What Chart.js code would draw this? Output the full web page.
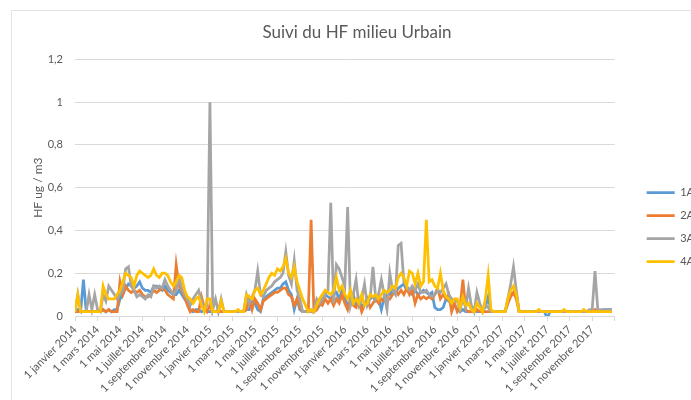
<!DOCTYPE html>
<html>
<head>
<meta charset="utf-8">
<title>Suivi du HF milieu Urbain</title>
<script src="https://cdn.jsdelivr.net/npm/chart.js@4.4.1/dist/chart.umd.min.js"></script>
<style>
  html, body { margin: 0; padding: 0; background: #fff; overflow: hidden; width: 691px; height: 400px; }
  #frame { position: absolute; left: 11px; top: 10px; width: 720px; height: 440px; border: 1px solid #e3e3e3; }
  #wrap { position: absolute; left: 10px; top: 10px; width: 694px; height: 400px; }
</style>
</head>
<body>
<div id="frame"></div>
<div id="wrap"><canvas id="chart"></canvas></div>
<script>
/* Suivi du HF milieu Urbain — relevés hebdomadaires 2014-2017 */

const MONTH_LABELS = [
  "1 janvier 2014", "1 mars 2014", "1 mai 2014", "1 juillet 2014", "1 septembre 2014", "1 novembre 2014",
  "1 janvier 2015", "1 mars 2015", "1 mai 2015", "1 juillet 2015", "1 septembre 2015", "1 novembre 2015",
  "1 janvier 2016", "1 mars 2016", "1 mai 2016", "1 juillet 2016", "1 septembre 2016", "1 novembre 2016",
  "1 janvier 2017", "1 mars 2017", "1 mai 2017", "1 juillet 2017", "1 septembre 2017", "1 novembre 2017",
];
const SERIES_NAMES = ["1A", "2A", "3A", "4A"];
const SERIES_COLORS = ["#5B9BD5", "#ED7D31", "#A5A5A5", "#FFC000"];
const SAMPLES_PER_MONTH = 4;

// 4 relevés par mois, de janvier 2014 à décembre 2017
const HF_1A = [
  0.02,0.03,0.02,0.17, 0.02,0.02,0.02,0.02, 0.02,0.02,0.03,0.02, 0.03,0.02,0.03,0.03, 0.08,0.10,0.13,0.15, 0.14,0.13,0.14,0.16,
  0.13,0.12,0.12,0.11, 0.14,0.14,0.13,0.12, 0.14,0.12,0.11,0.10, 0.10,0.12,0.10,0.08, 0.06,0.03,0.02,0.03, 0.03,0.02,0.03,0.02,
  0.02,0.02,0.02,0.02, 0.02,0.02,0.02,0.02, 0.02,0.02,0.02,0.02, 0.02,0.03,0.03,0.08, 0.06,0.03,0.02,0.08, 0.09,0.10,0.11,0.12,
  0.13,0.13,0.15,0.16, 0.12,0.10,0.03,0.08, 0.03,0.02,0.02,0.02, 0.02,0.02,0.03,0.05, 0.08,0.10,0.09,0.08, 0.10,0.11,0.08,0.12,
  0.08,0.05,0.07,0.10, 0.05,0.08,0.04,0.06, 0.06,0.08,0.09,0.07, 0.08,0.03,0.09,0.10, 0.10,0.12,0.11,0.13, 0.14,0.15,0.12,0.11,
  0.10,0.12,0.10,0.11, 0.12,0.11,0.10,0.11, 0.04,0.03,0.03,0.04, 0.08,0.07,0.06,0.05, 0.03,0.02,0.03,0.02, 0.02,0.02,0.03,0.02,
  0.02,0.03,0.04,0.09, 0.02,0.02,0.02,0.02, 0.02,0.02,0.06,0.10, 0.11,0.10,0.02,0.02, 0.02,0.02,0.02,0.02, 0.02,0.02,0.02,0.02,
  -0.01,0.02,0.02,0.02, 0.02,0.02,0.02,0.02, 0.02,0.02,0.02,0.02, 0.02,0.02,0.02,0.02, 0.02,0.02,0.02,0.02, 0.03,0.03,0.03,0.03,
];
const HF_2A = [
  0.02,0.02,0.02,0.02, 0.02,0.02,0.02,0.02, 0.02,0.02,0.03,0.02, 0.03,0.02,0.02,0.02, 0.16,0.10,0.14,0.12, 0.11,0.12,0.11,0.12,
  0.10,0.09,0.09,0.10, 0.12,0.11,0.12,0.13, 0.12,0.10,0.09,0.08, 0.24,0.14,0.12,0.09, 0.05,0.02,0.03,0.02, 0.02,0.09,0.04,0.02,
  0.05,0.02,0.02,0.03, 0.02,0.02,0.02,0.02, 0.02,0.02,0.02,0.02, 0.02,0.03,0.08,0.03, 0.08,0.06,0.03,0.07, 0.08,0.09,0.10,0.11,
  0.11,0.12,0.13,0.13, 0.10,0.09,0.05,0.08, 0.04,0.02,0.02,0.02, 0.45,0.02,0.03,0.06, 0.05,0.08,0.06,0.08, 0.05,0.08,0.06,0.10,
  0.06,0.03,0.08,0.05, 0.04,0.07,0.02,0.05, 0.08,0.04,0.06,0.08, 0.06,0.08,0.07,0.09, 0.08,0.10,0.12,0.10, 0.12,0.10,0.13,0.10,
  0.12,0.06,0.10,0.08, 0.09,0.08,0.09,0.08, 0.10,0.13,0.08,0.10, 0.08,0.10,0.02,0.06, 0.02,0.04,0.17,0.03, 0.02,0.02,0.02,0.03,
  0.02,0.02,0.02,0.02, 0.02,0.02,0.02,0.02, 0.02,0.02,0.06,0.09, 0.11,0.08,0.02,0.02, 0.02,0.02,0.02,0.02, 0.02,0.02,0.02,0.02,
  0.02,0.02,0.02,0.02, 0.02,0.02,0.02,0.02, 0.02,0.02,0.02,0.02, 0.02,0.02,0.02,0.02, 0.02,0.03,0.02,0.02, 0.02,0.02,0.02,0.02,
];
const HF_3A = [
  0.02,0.10,0.02,0.02, 0.02,0.10,0.03,0.10, 0.03,0.02,0.10,0.07, 0.14,0.12,0.10,0.08, 0.10,0.12,0.22,0.23, 0.14,0.12,0.09,0.10,
  0.09,0.08,0.10,0.09, 0.14,0.13,0.14,0.13, 0.17,0.14,0.12,0.10, 0.12,0.18,0.13,0.10, 0.08,0.05,0.08,0.10, 0.12,0.07,0.03,0.05,
  1.00,0.03,0.08,0.02, 0.08,0.02,0.02,0.02, 0.02,0.02,0.02,0.02, 0.02,0.10,0.06,0.09, 0.12,0.21,0.10,0.09, 0.12,0.13,0.14,0.16,
  0.17,0.18,0.20,0.30, 0.19,0.15,0.26,0.12, 0.08,0.02,0.02,0.02, 0.02,0.02,0.08,0.06, 0.08,0.10,0.12,0.53, 0.06,0.24,0.22,0.18,
  0.14,0.51,0.05,0.10, 0.17,0.05,0.08,0.15, 0.05,0.08,0.23,0.08, 0.10,0.17,0.10,0.03, 0.20,0.12,0.10,0.33, 0.34,0.16,0.14,0.12,
  0.14,0.12,0.15,0.11, 0.11,0.12,0.10,0.09, 0.10,0.12,0.11,0.13, 0.15,0.10,0.08,0.07, 0.07,0.03,0.08,0.04, 0.13,0.05,0.02,0.11,
  0.06,0.02,0.05,0.04, 0.02,0.02,0.02,0.02, 0.02,0.02,0.08,0.15, 0.23,0.12,0.02,0.02, 0.02,0.02,0.02,0.02, 0.02,0.02,0.02,0.02,
  0.02,0.02,0.02,0.02, 0.02,0.02,0.02,0.02, 0.02,0.02,0.02,0.02, 0.02,0.02,0.02,0.03, 0.03,0.21,0.03,0.03, 0.03,0.03,0.03,0.03,
];
const HF_4A = [
  0.02,0.10,0.02,0.02, 0.02,0.02,0.02,0.02, 0.02,0.02,0.14,0.10, 0.08,0.08,0.08,0.10, 0.12,0.16,0.20,0.19, 0.18,0.14,0.19,0.21,
  0.20,0.19,0.18,0.19, 0.22,0.19,0.18,0.20, 0.20,0.19,0.16,0.14, 0.16,0.19,0.18,0.12, 0.09,0.08,0.06,0.08, 0.09,0.05,0.02,0.08,
  0.08,0.02,0.02,0.02, 0.07,0.02,0.02,0.02, 0.02,0.02,0.03,0.02, 0.02,0.10,0.09,0.08, 0.12,0.13,0.10,0.12, 0.15,0.18,0.20,0.19,
  0.22,0.21,0.23,0.27, 0.20,0.18,0.23,0.16, 0.12,0.08,0.05,0.02, 0.03,0.02,0.05,0.08, 0.10,0.12,0.11,0.10, 0.12,0.18,0.12,0.14,
  0.10,0.08,0.12,0.06, 0.08,0.06,0.10,0.05, 0.06,0.10,0.09,0.10, 0.08,0.10,0.12,0.11, 0.12,0.14,0.13,0.18, 0.20,0.18,0.14,0.21,
  0.20,0.15,0.20,0.14, 0.16,0.45,0.16,0.17, 0.14,0.13,0.20,0.12, 0.09,0.08,0.06,0.08, 0.08,0.04,0.09,0.05, 0.06,0.03,0.02,0.06,
  0.04,0.02,0.08,0.19, 0.03,0.02,0.02,0.02, 0.02,0.02,0.08,0.12, 0.14,0.10,0.02,0.02, 0.02,0.02,0.02,0.02, 0.02,0.03,0.02,0.02,
  0.02,0.02,0.02,0.02, 0.02,0.02,0.03,0.02, 0.02,0.02,0.02,0.02, 0.02,0.03,0.02,0.02, 0.02,0.02,0.02,0.02, 0.02,0.02,0.02,0.02,
];

const SERIES = [HF_1A, HF_2A, HF_3A, HF_4A];
const FONT = "Lato, 'Open Sans', sans-serif";
const TEXT = "#595959";
const GRID = "#d9d9d9";

// position en mois depuis janvier 2014
const xPos = HF_1A.map((_, i) => i / SAMPLES_PER_MONTH);

function frNum(v) {
  return String(Math.round(v * 10) / 10).replace(".", ",");
}

const datasets = SERIES.map((values, i) => ({
  label: SERIES_NAMES[i],
  data: values,
  borderColor: SERIES_COLORS[i],
  backgroundColor: SERIES_COLORS[i],
  borderWidth: 2.75,
  pointRadius: 0,
  tension: 0,
  order: SERIES.length - i, // 4A dessinée par-dessus
}));

new Chart(document.getElementById("chart"), {
  type: "line",
  data: { labels: xPos, datasets },
  options: {
    responsive: true,
    maintainAspectRatio: false,
    animation: false,
    layout: { padding: 0 },
    plugins: {
      title: {
        display: true,
        text: "Suivi du HF milieu Urbain",
        color: TEXT,
        font: { family: FONT, size: 17, weight: "normal" },
        padding: { top: 12, bottom: 17 },
      },
      legend: {
        position: "right",
        // titre vide : décale les entrées vers le bas comme dans Excel
        title: { display: true, text: "", font: { size: 10 }, padding: { top: 22, bottom: 0 } },
        labels: {
          usePointStyle: true,
          pointStyle: "line",
          pointStyleWidth: 28,
          color: TEXT,
          font: { family: FONT, size: 11 },
          padding: 12,
          sort: (a, b) => a.datasetIndex - b.datasetIndex,
        },
      },
      tooltip: { enabled: false },
    },
    scales: {
      x: {
        type: "linear",
        min: 0,
        max: 48,
        ticks: {
          stepSize: 2,
          autoSkip: false,
          maxRotation: 45,
          minRotation: 45,
          padding: 2,
          color: TEXT,
          font: { family: FONT, size: 11 },
          callback: (v) => MONTH_LABELS[v / 2] || "",
        },
        grid: { drawOnChartArea: false, drawTicks: true, tickLength: 5, color: GRID },
        border: { display: true, color: GRID },
        afterFit: (s) => { s.height = 94; },
      },
      y: {
        min: 0,
        max: 1.2,
        ticks: {
          stepSize: 0.2,
          padding: 12,
          color: TEXT,
          font: { family: FONT, size: 11 },
          callback: (v) => frNum(v),
        },
        grid: { color: GRID, drawTicks: false },
        border: { display: false },
        title: {
          display: true,
          text: "HF ug / m3",
          color: TEXT,
          font: { family: FONT, size: 12 },
          padding: { top: 21, bottom: 0 },
        },
        afterFit: (s) => { s.width = 65; },
      },
      gap: {
        type: "linear",
        position: "right",
        grid: { display: false },
        ticks: { display: false },
        border: { display: false },
        afterFit: (s) => { s.width = 20; },
      },
    },
  },
});
</script>
</body>
</html>
